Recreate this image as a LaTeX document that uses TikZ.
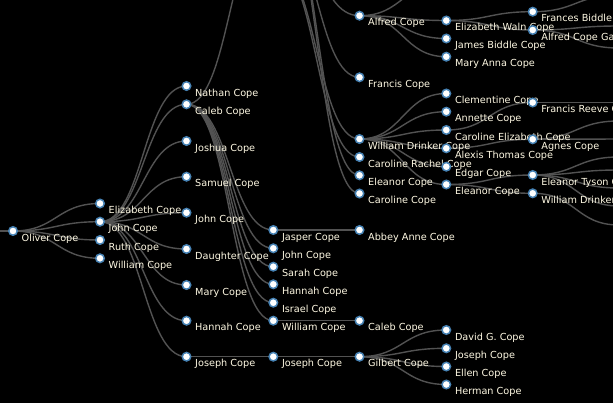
\documentclass[tikz,border=0pt]{standalone}
\usepackage{fontspec}
\setmainfont{DejaVu Sans}
\usetikzlibrary{calc}
\definecolor{linkc}{RGB}{82,82,82}
\definecolor{nodeb}{RGB}{70,130,180}
\definecolor{txt}{RGB}{255,250,228}
\pgfdeclarelayer{bg}
\pgfdeclarelayer{edges}
\pgfsetlayers{bg,edges,main}
\tikzset{
  pers/.style={circle, fill=white, draw=nodeb, line width=1.5pt, minimum size=8.5pt, inner sep=0pt},
  plabel/.style={anchor=base west, text=txt,
    font=\fontsize{9.7}{11}\selectfont, inner sep=0pt},
  link/.style={draw=linkc, line width=1.4pt},
}
\newcommand\pp[4]{\node[pers] (#1) at (#2,#3) {};
  \node[plabel] (#1-t) at ([xshift=8.5pt,yshift=-10pt]#1.center) {#4};}
\newcommand\lnk[2]{\draw[link] let \p1=(#1.center), \p2=(#2.center) in
  (\p1) .. controls ({(\x1+\x2)/2},\y1) and ({(\x1+\x2)/2},\y2) .. (\p2);}
\begin{document}
\begin{tikzpicture}[x=1pt,y=-1pt]
\useasboundingbox (0,0) rectangle (613,402);
\begin{pgfonlayer}{bg}
\fill[black] (-5,-5) rectangle (620,410);
\end{pgfonlayer}
% generation 1
\pp{ol}{13}{231}{Oliver Cope}
% generation 2
\pp{ga}{100}{203.5}{Elizabeth Cope}
\pp{gb}{100}{221.7}{John Cope}
\pp{gc}{100}{240}{Ruth Cope}
\pp{gd}{100}{258.3}{William Cope}
% generation 3
\pp{ha}{186.5}{86}{Nathan Cope}
\pp{hb}{186.5}{104.3}{Caleb Cope}
\pp{hc}{186.5}{141}{Joshua Cope}
\pp{hd}{186.5}{176.7}{Samuel Cope}
\pp{he}{186.5}{212.7}{John Cope}
\pp{hf}{186.5}{249}{Daughter Cope}
\pp{hg}{186.5}{285}{Mary Cope}
\pp{hh}{186.5}{320.7}{Hannah Cope}
\pp{hi}{186.5}{356.7}{Joseph Cope}
% generation 4
\pp{ia}{273.3}{230}{Jasper Cope}
\pp{ib}{273.3}{248.3}{John Cope}
\pp{ic}{273.3}{266.7}{Sarah Cope}
\pp{id}{273.3}{284.3}{Hannah Cope}
\pp{ie}{273.3}{302.7}{Israel Cope}
\pp{if}{273.3}{320.7}{William Cope}
\pp{ig}{273.3}{356.7}{Joseph Cope}
% generation 5
\pp{ja}{359.5}{15.7}{Alfred Cope}
\pp{jb}{359.5}{77.3}{Francis Cope}
\pp{jc}{359.5}{139}{William Drinker Cope}
\pp{jd}{359.5}{157}{Caroline Rachel Cope}
\pp{je}{359.5}{175.3}{Eleanor Cope}
\pp{jf}{359.5}{193.5}{Caroline Cope}
\pp{jg}{359.5}{230}{Abbey Anne Cope}
\pp{jh}{359.5}{320.7}{Caleb Cope}
\pp{ji}{359.5}{356.7}{Gilbert Cope}
% generation 6
\pp{ka}{446.3}{20.5}{Elizabeth Waln Cope}
\pp{kb}{446.3}{38.5}{James Biddle Cope}
\pp{kc}{446.3}{56.7}{Mary Anna Cope}
\pp{kd}{446.3}{93.5}{Clementine Cope}
\pp{ke}{446.3}{111.7}{Annette Cope}
\pp{kf}{446.3}{130}{Caroline Elizabeth Cope}
\pp{kg}{446.3}{148.3}{Alexis Thomas Cope}
\pp{kh}{446.3}{166.7}{Edgar Cope}
\pp{ki}{446.3}{184.5}{Eleanor Cope}
\pp{kj}{446.3}{330}{David G. Cope}
\pp{kk}{446.3}{348.3}{Joseph Cope}
\pp{kl}{446.3}{366.5}{Ellen Cope}
\pp{km}{446.3}{384.5}{Herman Cope}
% generation 7
\pp{la}{532.7}{11.7}{Frances Biddle Cope}
\pp{lb}{532.7}{30}{Alfred Cope Garrett}
\pp{lc}{532.7}{102.5}{Francis Reeve Cope}
\pp{ld}{532.7}{139.3}{Agnes Cope}
\pp{le}{532.7}{175}{Eleanor Tyson Cope}
\pp{lf}{532.7}{193.3}{William Drinker Cope}
% off-picture relatives
\coordinate (o0) at (-74,231);
\coordinate (u1) at (273.3,-80);
\coordinate (u2) at (273.3,-40);
\coordinate (u3) at (273.3,-120);
\coordinate (v1) at (446.3,-18);
\coordinate (w1) at (619,-5);
\coordinate (w2) at (619,26);
\coordinate (w3) at (619,48);
\coordinate (w4) at (619,102.5);
\coordinate (w5) at (619,121);
\coordinate (w6) at (619,139);
\coordinate (w7) at (619,157);
\coordinate (w8) at (619,170);
\coordinate (w9) at (619,188);
\coordinate (w10) at (619,206);
\coordinate (w11) at (619,225);
\begin{pgfonlayer}{edges}
\lnk{o0}{ol}
\foreach \t in {ga,gb,gc,gd} {\lnk{ol}{\t}}
\foreach \t in {ha,hb,hc,hd,he,hf,hg,hh,hi} {\lnk{gb}{\t}}
\foreach \t in {ia,ib,ic,id,ie,if} {\lnk{hb}{\t}}
\lnk{hb}{u1}
\lnk{hi}{ig}
\lnk{u1}{ja}
\lnk{u1}{jb}
\lnk{u2}{jc}
\lnk{u2}{jd}
\lnk{u3}{je}
\lnk{u3}{jf}
\lnk{ia}{jg}
\lnk{if}{jh}
\lnk{ig}{ji}
\foreach \t in {v1,ka,kb,kc} {\lnk{ja}{\t}}
\foreach \t in {kd,ke,kf,kg,kh,ki} {\lnk{jc}{\t}}
\foreach \t in {kj,kk,kl,km} {\lnk{ji}{\t}}
\lnk{ka}{la}
\lnk{ka}{lb}
\lnk{kf}{lc}
\lnk{kg}{ld}
\lnk{ki}{le}
\lnk{ki}{lf}
\lnk{la}{w1}
\lnk{lb}{w2}
\lnk{lb}{w3}
\lnk{lc}{w4}
\lnk{ld}{w5}
\lnk{ld}{w6}
\lnk{le}{w7}
\lnk{le}{w8}
\lnk{le}{w9}
\lnk{le}{w10}
\lnk{lf}{w11}
\end{pgfonlayer}
\end{tikzpicture}
\end{document}
